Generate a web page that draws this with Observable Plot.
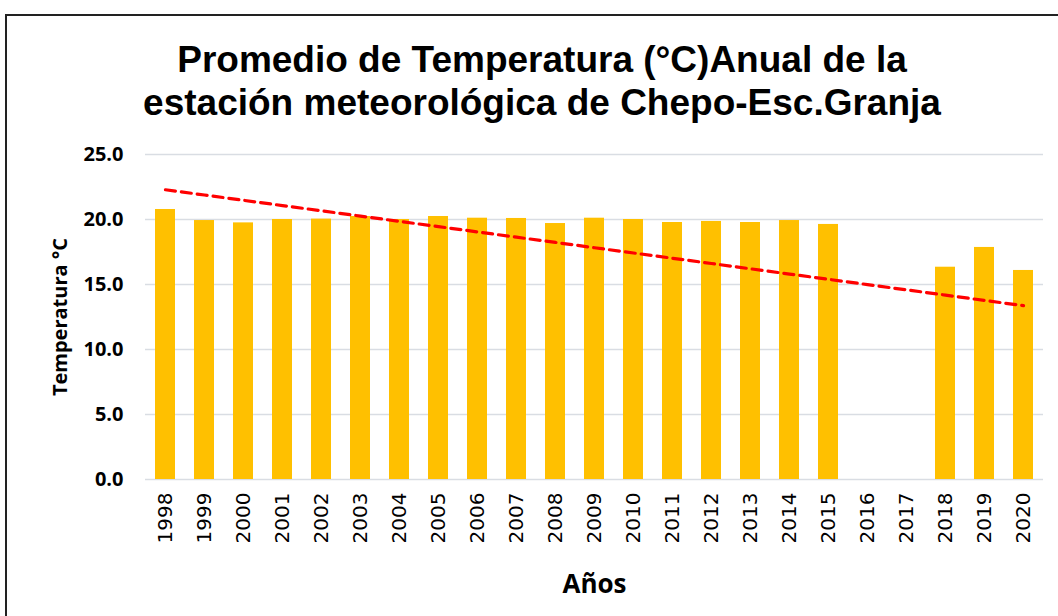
<!DOCTYPE html>
<html>
<head>
<meta charset="utf-8">
<script src="https://cdn.jsdelivr.net/npm/d3@7"></script>
<script src="https://cdn.jsdelivr.net/npm/@observablehq/plot@0.6"></script>
<style>
  html, body { margin: 0; padding: 0; background: #fff; width: 1058px; height: 616px; overflow: hidden; }
  #frame { position: absolute; left: 5px; top: 14px; width: 1060px; height: 620px;
           border-left: 2px solid #222; border-top: 2px solid #222; }
  #title { position: absolute; left: 0; top: 38px; width: 1084px; text-align: center;
           font-family: "Liberation Sans", Arial, sans-serif; font-weight: bold; font-size: 37px;
           line-height: 43px; color: #000; }
  #chart { position: absolute; left: 0; top: 130px; }
</style>
</head>
<body>
<div id="frame"></div>
<div id="title">Promedio de Temperatura (°C)Anual de la<br>estación meteorológica de Chepo-Esc.Granja</div>
<div id="chart"></div>
<script>
const years = ["1998","1999","2000","2001","2002","2003","2004","2005","2006","2007","2008","2009","2010","2011","2012","2013","2014","2015","2016","2017","2018","2019","2020"];
const temps = [20.77,19.92,19.74,20.0,20.03,20.23,20.0,20.23,20.1,20.08,19.69,20.1,20.0,19.77,19.85,19.77,19.92,19.62,null,null,16.33,17.85,16.08];
const yTicks = [0,5,10,15,20,25];

const data = years.map((year, i) => ({year, temp: temps[i]}));
const bars = data.filter(d => d.temp != null);

// Linear trendline (Excel-style, empty cells counted as zero)
const xs = years.map((_, i) => i + 1);
const ys = temps.map(v => v == null ? 0 : v);
const mx = d3.mean(xs), my = d3.mean(ys);
const slope = d3.sum(xs, (x, i) => (x - mx) * (ys[i] - my)) / d3.sum(xs, x => (x - mx) ** 2);
const intercept = my - slope * mx;
const trend = years.map((year, i) => ({year, v: intercept + slope * (i + 1)}));

const labelFont = "'Open Sans', Lato, sans-serif";

const plot = Plot.plot({
  width: 1058,
  height: 486,
  marginLeft: 145,
  marginRight: 15,
  marginTop: 24,
  marginBottom: 137,
  x: {domain: years, paddingInner: 0.48, paddingOuter: 0.24, label: null},
  y: {domain: [0, 25], label: null},
  marks: [
    Plot.ruleY(yTicks, {stroke: "#d9dde3", strokeWidth: 1.5}),
    Plot.barY(bars, {x: "year", y: "temp", fill: "#FFC000"}),
    Plot.line(trend, {x: "year", y: "v", stroke: "#FF0000", strokeWidth: 3.2, strokeDasharray: "10,6", strokeLinecap: "round"}),
    Plot.axisX({tickSize: 0, tickPadding: 13, tickRotate: -90, label: null,
      fontFamily: "'DejaVu Sans', sans-serif", fontSize: 20, fill: "#000"}),
    Plot.axisY({ticks: yTicks, tickFormat: d3.format(".1f"), tickSize: 0, tickPadding: 22, label: null,
      fontFamily: labelFont, fontWeight: "bold", fontSize: 20, fill: "#000"}),
    Plot.text(["Temperatura °C"], {frameAnchor: "left", dx: -85, rotate: -90, textAnchor: "middle", text: d => d,
      fontFamily: labelFont, fontWeight: "bold", fontSize: 20, fill: "#000"}),
    Plot.text(["Años"], {frameAnchor: "bottom", dy: 113, text: d => d,
      fontFamily: labelFont, fontWeight: "bold", fontSize: 26, fill: "#000"})
  ],
  style: {background: "transparent", color: "#000", overflow: "visible"}
});

document.getElementById("chart").appendChild(plot);
</script>
</body>
</html>
